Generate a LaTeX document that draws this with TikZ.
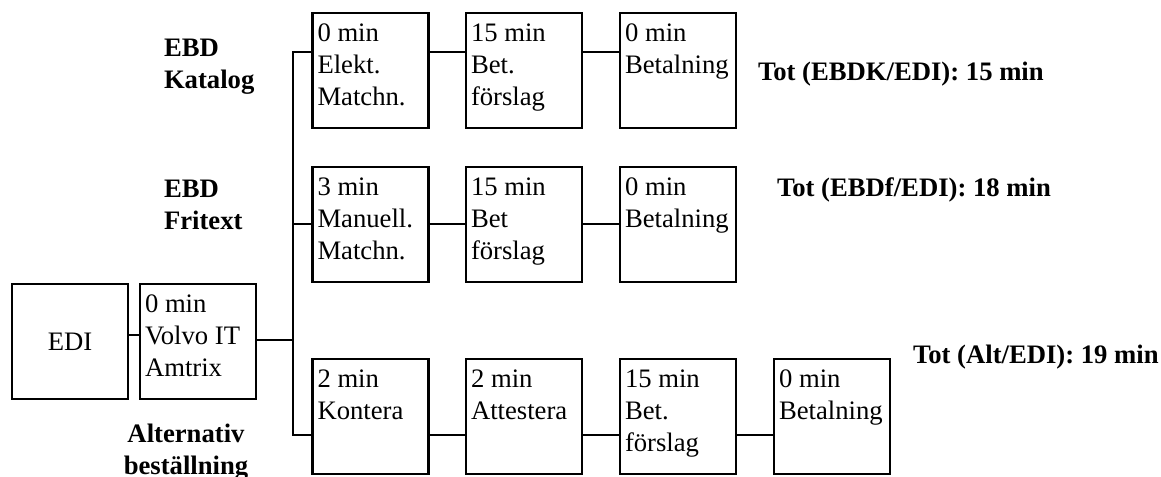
\documentclass[tikz,border=0pt]{standalone}
\usepackage{fontspec}
\setmainfont{Liberation Serif}
\begin{document}
\begin{tikzpicture}[x=0.75pt,y=-0.75pt,
  every node/.style={inner sep=0pt, outer sep=0pt},
  procbox/.style={draw, line width=2pt, minimum width=116*0.75pt, minimum height=115*0.75pt},
  boxtext/.style={anchor=north west, align=left, font=\fontsize{20}{24}\selectfont},
  routelabel/.style={anchor=north west, align=left, font=\fontsize{20}{24}\selectfont\bfseries},
  total/.style={anchor=base west, font=\fontsize{20}{24}\selectfont\bfseries},
  link/.style={line width=2pt}]
\useasboundingbox (0,0) rectangle (1161,476);

% process step: name, centre x, centre y, text
\newcommand\procstep[4]{%
  \node[procbox] (#1) at (#2,#3) {};
  \node[boxtext] (#1t) at ([xshift=5*0.75pt,yshift=-11*0.75pt]#1.north west) {#4};}

% source and gateway
\node[procbox] (edi) at (70,341.5) {};
\node[font=\fontsize{20}{24}\selectfont] (edit) at (edi) {EDI};
\procstep{vol}{198}{341.5}{0 min\\Volvo IT\\Amtrix}

% route 1: EBD Katalog
\procstep{a1}{370.5}{70.5}{0 min\\Elekt.\\Matchn.}
\procstep{a2}{524}{70.5}{15 min\\Bet.\\förslag}
\procstep{a3}{678}{70.5}{0 min\\Betalning}

% route 2: EBD Fritext
\procstep{b1}{370.5}{224.5}{3 min\\Manuell.\\Matchn.}
\procstep{b2}{524}{224.5}{15 min\\Bet\\förslag}
\procstep{b3}{678}{224.5}{0 min\\Betalning}

% route 3: alternative ordering
\procstep{c1}{370.5}{416.5}{2 min\\Kontera}
\procstep{c2}{524}{416.5}{2 min\\Attestera}
\procstep{c3}{678}{416.5}{15 min\\Bet.\\förslag}
\procstep{c4}{832}{416.5}{0 min\\Betalning}

% trunk junctions
\coordinate (tTop) at (293,52);
\coordinate (tMid) at (293,224);
\coordinate (tVol) at (293,340);
\coordinate (tBot) at (293,435);
\coordinate (ev) at (0,335);

% connectors
\draw[link] (edi.east |- ev) -- (vol.west |- ev);
\draw[link] (vol.east |- tVol) -- (tVol);
\draw[link] (a1.west |- tTop) -- (tTop) -- (tBot) -- (c1.west |- tBot);
\draw[link] (tMid) -- (b1.west |- tMid);
\draw[link] (a1.east |- tTop) -- (a2.west |- tTop);
\draw[link] (a2.east |- tTop) -- (a3.west |- tTop);
\draw[link] (b1.east |- tMid) -- (b2.west |- tMid);
\draw[link] (b2.east |- tMid) -- (b3.west |- tMid);
\draw[link] (c1.east |- tBot) -- (c2.west |- tBot);
\draw[link] (c2.east |- tBot) -- (c3.west |- tBot);
\draw[link] (c3.east |- tBot) -- (c4.west |- tBot);

% route labels
\node[routelabel] (lkat) at (164,39.5) {EBD\\Katalog};
\node[routelabel] (lfri) at (164,180) {EBD\\Fritext};
\node[routelabel, anchor=north, align=center] (lalt) at (186,424) {Alternativ\\beställning};

% totals
\node[total] (tot1) at (758,80) {Tot (EBDK/EDI): 15 min};
\node[total] (tot2) at (777,196) {Tot (EBDf/EDI): 18 min};
\node[total] (tot3) at (913,363) {Tot (Alt/EDI): 19 min};
\end{tikzpicture}
\end{document}
